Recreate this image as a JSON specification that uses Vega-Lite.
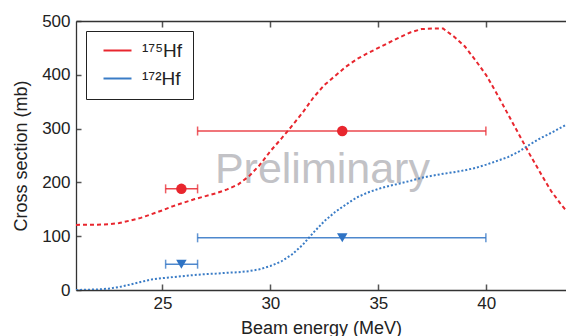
{
  "$schema": "https://vega.github.io/schema/vega-lite/v6.json",
  "autosize": "none",
  "width": 490,
  "height": 269,
  "padding": {"left": 76, "top": 21, "right": 0, "bottom": 46},
  "background": "white",
  "config": {
    "view": {"stroke": null},
    "font": "Liberation Sans",
    "axis": {"domainColor": "#333", "domainWidth": 1.3, "ticks": false, "gridColor": "#555", "gridWidth": 1.5, "gridOpacity": 1, "labelColor": "#222", "titleColor": "#222", "labelFontSize": 17, "titleFontSize": 18, "titleFontWeight": "normal"}
  },
  "datasets": {
    "curves": [
      {"iso": "¹⁷⁵Hf", "E": 21.0, "xs": 121},
      {"iso": "¹⁷⁵Hf", "E": 22.0, "xs": 121.5},
      {"iso": "¹⁷⁵Hf", "E": 22.5, "xs": 122},
      {"iso": "¹⁷⁵Hf", "E": 23.0, "xs": 124.5},
      {"iso": "¹⁷⁵Hf", "E": 23.5, "xs": 129},
      {"iso": "¹⁷⁵Hf", "E": 24.0, "xs": 134},
      {"iso": "¹⁷⁵Hf", "E": 24.5, "xs": 141},
      {"iso": "¹⁷⁵Hf", "E": 25.0, "xs": 148},
      {"iso": "¹⁷⁵Hf", "E": 25.5, "xs": 156},
      {"iso": "¹⁷⁵Hf", "E": 26.0, "xs": 162.5},
      {"iso": "¹⁷⁵Hf", "E": 26.5, "xs": 169},
      {"iso": "¹⁷⁵Hf", "E": 27.0, "xs": 174.5},
      {"iso": "¹⁷⁵Hf", "E": 27.5, "xs": 180},
      {"iso": "¹⁷⁵Hf", "E": 28.0, "xs": 187},
      {"iso": "¹⁷⁵Hf", "E": 28.5, "xs": 196},
      {"iso": "¹⁷⁵Hf", "E": 29.0, "xs": 211},
      {"iso": "¹⁷⁵Hf", "E": 29.5, "xs": 232},
      {"iso": "¹⁷⁵Hf", "E": 30.0, "xs": 258},
      {"iso": "¹⁷⁵Hf", "E": 30.5, "xs": 281},
      {"iso": "¹⁷⁵Hf", "E": 31.0, "xs": 305},
      {"iso": "¹⁷⁵Hf", "E": 31.5, "xs": 330},
      {"iso": "¹⁷⁵Hf", "E": 32.0, "xs": 358},
      {"iso": "¹⁷⁵Hf", "E": 32.5, "xs": 381},
      {"iso": "¹⁷⁵Hf", "E": 33.0, "xs": 398},
      {"iso": "¹⁷⁵Hf", "E": 33.5, "xs": 415},
      {"iso": "¹⁷⁵Hf", "E": 34.0, "xs": 429},
      {"iso": "¹⁷⁵Hf", "E": 34.5, "xs": 440},
      {"iso": "¹⁷⁵Hf", "E": 35.0, "xs": 450},
      {"iso": "¹⁷⁵Hf", "E": 35.5, "xs": 460},
      {"iso": "¹⁷⁵Hf", "E": 36.0, "xs": 470},
      {"iso": "¹⁷⁵Hf", "E": 36.5, "xs": 479},
      {"iso": "¹⁷⁵Hf", "E": 37.0, "xs": 485},
      {"iso": "¹⁷⁵Hf", "E": 37.5, "xs": 486},
      {"iso": "¹⁷⁵Hf", "E": 38.0, "xs": 486},
      {"iso": "¹⁷⁵Hf", "E": 38.5, "xs": 471},
      {"iso": "¹⁷⁵Hf", "E": 39.0, "xs": 453},
      {"iso": "¹⁷⁵Hf", "E": 39.5, "xs": 427},
      {"iso": "¹⁷⁵Hf", "E": 40.0, "xs": 399},
      {"iso": "¹⁷⁵Hf", "E": 40.5, "xs": 364},
      {"iso": "¹⁷⁵Hf", "E": 41.0, "xs": 327},
      {"iso": "¹⁷⁵Hf", "E": 41.5, "xs": 290},
      {"iso": "¹⁷⁵Hf", "E": 42.0, "xs": 253},
      {"iso": "¹⁷⁵Hf", "E": 42.5, "xs": 218},
      {"iso": "¹⁷⁵Hf", "E": 43.0, "xs": 184},
      {"iso": "¹⁷⁵Hf", "E": 43.5, "xs": 157},
      {"iso": "¹⁷⁵Hf", "E": 43.69, "xs": 148},
      {"iso": "¹⁷²Hf", "E": 21.0, "xs": 0},
      {"iso": "¹⁷²Hf", "E": 22.0, "xs": 1},
      {"iso": "¹⁷²Hf", "E": 22.5, "xs": 2.5},
      {"iso": "¹⁷²Hf", "E": 23.0, "xs": 5.5},
      {"iso": "¹⁷²Hf", "E": 23.5, "xs": 10},
      {"iso": "¹⁷²Hf", "E": 24.0, "xs": 15},
      {"iso": "¹⁷²Hf", "E": 24.5, "xs": 19.5},
      {"iso": "¹⁷²Hf", "E": 25.0, "xs": 22},
      {"iso": "¹⁷²Hf", "E": 25.5, "xs": 24},
      {"iso": "¹⁷²Hf", "E": 26.0, "xs": 26},
      {"iso": "¹⁷²Hf", "E": 26.5, "xs": 28},
      {"iso": "¹⁷²Hf", "E": 27.0, "xs": 29.5},
      {"iso": "¹⁷²Hf", "E": 27.5, "xs": 30.5},
      {"iso": "¹⁷²Hf", "E": 28.0, "xs": 32},
      {"iso": "¹⁷²Hf", "E": 28.5, "xs": 33},
      {"iso": "¹⁷²Hf", "E": 29.0, "xs": 35},
      {"iso": "¹⁷²Hf", "E": 29.5, "xs": 38.5},
      {"iso": "¹⁷²Hf", "E": 30.0, "xs": 44.6},
      {"iso": "¹⁷²Hf", "E": 30.5, "xs": 53},
      {"iso": "¹⁷²Hf", "E": 31.0, "xs": 66},
      {"iso": "¹⁷²Hf", "E": 31.5, "xs": 84},
      {"iso": "¹⁷²Hf", "E": 32.0, "xs": 107},
      {"iso": "¹⁷²Hf", "E": 32.5, "xs": 128},
      {"iso": "¹⁷²Hf", "E": 33.0, "xs": 145},
      {"iso": "¹⁷²Hf", "E": 33.5, "xs": 159},
      {"iso": "¹⁷²Hf", "E": 34.0, "xs": 172},
      {"iso": "¹⁷²Hf", "E": 34.5, "xs": 181},
      {"iso": "¹⁷²Hf", "E": 35.0, "xs": 188},
      {"iso": "¹⁷²Hf", "E": 35.5, "xs": 193.5},
      {"iso": "¹⁷²Hf", "E": 36.0, "xs": 198},
      {"iso": "¹⁷²Hf", "E": 36.5, "xs": 203},
      {"iso": "¹⁷²Hf", "E": 37.0, "xs": 208.5},
      {"iso": "¹⁷²Hf", "E": 37.5, "xs": 212.5},
      {"iso": "¹⁷²Hf", "E": 38.0, "xs": 216},
      {"iso": "¹⁷²Hf", "E": 38.5, "xs": 219},
      {"iso": "¹⁷²Hf", "E": 39.0, "xs": 222.5},
      {"iso": "¹⁷²Hf", "E": 39.5, "xs": 227},
      {"iso": "¹⁷²Hf", "E": 40.0, "xs": 233},
      {"iso": "¹⁷²Hf", "E": 40.5, "xs": 240},
      {"iso": "¹⁷²Hf", "E": 41.0, "xs": 247},
      {"iso": "¹⁷²Hf", "E": 41.5, "xs": 257},
      {"iso": "¹⁷²Hf", "E": 42.0, "xs": 270},
      {"iso": "¹⁷²Hf", "E": 42.5, "xs": 282},
      {"iso": "¹⁷²Hf", "E": 43.0, "xs": 292},
      {"iso": "¹⁷²Hf", "E": 43.69, "xs": 307}
    ],
    "points": [
      {"iso": "¹⁷⁵Hf", "E": 25.88, "lo": 25.15, "hi": 26.63, "xs": 188},
      {"iso": "¹⁷⁵Hf", "E": 33.33, "lo": 26.63, "hi": 39.98, "xs": 295.5},
      {"iso": "¹⁷²Hf", "E": 25.88, "lo": 25.15, "hi": 26.63, "xs": 48},
      {"iso": "¹⁷²Hf", "E": 33.33, "lo": 26.63, "hi": 39.98, "xs": 97}
    ],
    "watermark": [
      {"E": 32.41, "xs": 198.5, "label": "Preliminary"}
    ]
  },
  "layer": [
    {
      "data": {"name": "watermark"},
      "mark": {"type": "text", "fontSize": 43, "color": "#c2c2c6", "align": "center", "baseline": "alphabetic"},
      "encoding": {
        "x": {"field": "E", "type": "quantitative", "scale": {"domain": [21, 43.69], "nice": false, "zero": false},
              "axis": {"orient": "bottom", "values": [25, 30, 35, 40], "grid": true, "gridDash": [6, 257, 6, 1000], "labelPadding": 5, "title": "Beam energy (MeV)", "titlePadding": 8}},
        "y": {"field": "xs", "type": "quantitative", "scale": {"domain": [0, 500], "nice": false},
              "axis": {"orient": "left", "values": [0, 100, 200, 300, 400, 500], "grid": true, "gridDash": [5, 1000], "labelPadding": 6, "title": "Cross section (mb)", "titlePadding": 11}},
        "text": {"field": "label"}
      }
    },
    {
      "data": {"name": "watermark"},
      "mark": {"type": "text", "opacity": 0},
      "encoding": {
        "x": {"field": "E", "type": "quantitative", "axis": {"orient": "top", "values": [25, 30, 35, 40], "grid": false, "labels": false, "title": null}},
        "y": {"field": "xs", "type": "quantitative"},
        "text": {"field": "label"}
      }
    },
    {
      "data": {"name": "curves"},
      "mark": {"type": "line", "strokeWidth": 2, "clip": true},
      "encoding": {
        "x": {"field": "E", "type": "quantitative", "axis": null},
        "y": {"field": "xs", "type": "quantitative"},
        "color": {"field": "iso", "type": "nominal", "scale": {"domain": ["¹⁷⁵Hf", "¹⁷²Hf"], "range": ["#e8262e", "#3a7cc6"]},
                  "legend": {"orient": "top-left", "offset": 10, "title": null, "padding": 10, "strokeColor": "#222", "fillColor": "white",
                             "labelFontSize": 19, "labelColor": "#222", "symbolType": "M-2,0H2", "symbolSize": 196, "symbolStrokeWidth": 2,
                             "symbolOffset": 12, "labelOffset": 15, "rowPadding": 8}},
        "strokeDash": {"field": "iso", "type": "nominal", "scale": {"domain": ["¹⁷⁵Hf", "¹⁷²Hf"], "range": [[4, 3], [2, 2]]}}
      }
    },
    {
      "data": {"name": "points"},
      "mark": {"type": "rule", "strokeWidth": 1.5, "opacity": 0.85},
      "encoding": {
        "x": {"field": "lo", "type": "quantitative", "axis": null},
        "x2": {"field": "hi"},
        "y": {"field": "xs", "type": "quantitative"},
        "color": {"field": "iso", "type": "nominal", "scale": {"domain": ["¹⁷⁵Hf", "¹⁷²Hf"], "range": ["#e8262e", "#2f73c4"]}, "legend": null}
      }
    },
    {
      "data": {"name": "points"},
      "mark": {"type": "tick", "orient": "vertical", "size": 9, "thickness": 1.5, "opacity": 0.75},
      "encoding": {
        "x": {"field": "lo", "type": "quantitative", "axis": null},
        "y": {"field": "xs", "type": "quantitative"},
        "color": {"field": "iso", "type": "nominal", "scale": {"domain": ["¹⁷⁵Hf", "¹⁷²Hf"], "range": ["#e8262e", "#2f73c4"]}, "legend": null}
      }
    },
    {
      "data": {"name": "points"},
      "mark": {"type": "tick", "orient": "vertical", "size": 9, "thickness": 1.5, "opacity": 0.75},
      "encoding": {
        "x": {"field": "hi", "type": "quantitative", "axis": null},
        "y": {"field": "xs", "type": "quantitative"},
        "color": {"field": "iso", "type": "nominal", "scale": {"domain": ["¹⁷⁵Hf", "¹⁷²Hf"], "range": ["#e8262e", "#2f73c4"]}, "legend": null}
      }
    },
    {
      "data": {"name": "points"},
      "mark": {"type": "point", "filled": true, "opacity": 1, "size": 110},
      "encoding": {
        "x": {"field": "E", "type": "quantitative", "axis": null},
        "y": {"field": "xs", "type": "quantitative"},
        "color": {"field": "iso", "type": "nominal", "scale": {"domain": ["¹⁷⁵Hf", "¹⁷²Hf"], "range": ["#e8262e", "#2f73c4"]}, "legend": null},
        "shape": {"field": "iso", "type": "nominal", "scale": {"domain": ["¹⁷⁵Hf", "¹⁷²Hf"], "range": ["circle", "triangle-down"]}, "legend": null}
      }
    }
  ],
  "resolve": {"scale": {"color": "independent"}, "legend": {"color": "independent"}}
}
